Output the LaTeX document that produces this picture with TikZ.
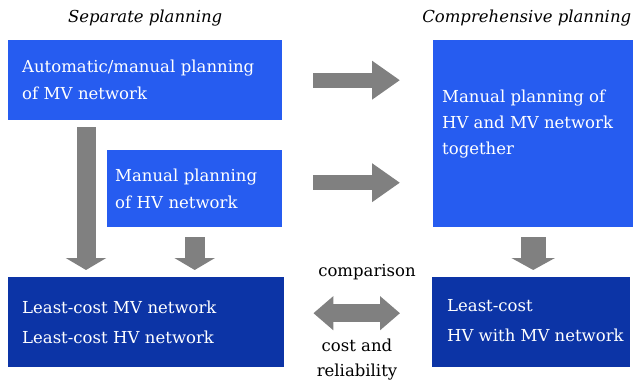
\documentclass[tikz,border=0pt]{standalone}
\usepackage{fontspec}
\setmainfont{DejaVu Serif}
\usepackage{xcolor}
\usetikzlibrary{arrows.meta,positioning,calc}
\definecolor{planning}{RGB}{38,92,240}
\definecolor{result}{RGB}{12,52,166}
\definecolor{flow}{RGB}{128,128,128}
\tikzstyle{box}=[inner ysep=0pt, anchor=north west, text=white, align=left,
  font=\fontsize{16.5}{27}\selectfont]
\tikzstyle{plan}=[box, fill=planning]
\tikzstyle{least}=[box, fill=result, font=\fontsize{16.5}{30}\selectfont]
\tikzstyle{heading}=[font=\fontsize{16.5}{18}\selectfont\itshape]
\tikzstyle{note}=[font=\fontsize{16.5}{20}\selectfont]
\tikzstyle{fat}=[draw=flow, line width=#1]
\tikzset{y=-1pt}
\tikzset{x=1pt}

\begin{document}
\begin{tikzpicture}
  \useasboundingbox (0,0) rectangle (636,385);

  %% planning steps
  \draw (8,40) node[plan, inner xsep=14pt, text width=246pt, minimum height=80pt] (A)
    {Automatic/manual planning\\of MV network};
  \draw (107,150) node[plan, inner xsep=8pt, text width=159pt, minimum height=77pt] (B)
    {Manual planning\\of HV network};
  \draw (433,40) node[plan, inner sep=0pt, minimum width=200pt, minimum height=187pt] (C) {};
  \draw ([xshift=9pt,yshift=-50pt]C.north west) node[box, inner sep=0pt,
    font=\fontsize{16.5}{26}\selectfont] (Ctext)
    {Manual planning of\\HV and MV network\\together};

  %% results
  \draw (8,277) node[least, inner xsep=14pt, text width=248pt, minimum height=90pt] (D)
    {Least-cost MV network\\Least-cost HV network};
  \draw (432,277) node[least, inner sep=0pt, minimum width=198pt, minimum height=90pt] (E) {};
  \draw ([xshift=15pt,yshift=2pt]E.west) node[least, fill=none, anchor=west, inner sep=0pt] (Etext)
    {Least-cost\\HV with MV network};

  %% headings
  \draw ($(A.north)+(0,-22)$) node[heading] (sep) {Separate planning};
  \draw ($(C.north east)+(-2,-22)$) node[heading, anchor=east, inner xsep=0pt] (comp)
    {Comprehensive planning};

  %% grey flow arrows
  \draw[fat=15pt, -{Triangle[length=28pt,width=37pt]}, flow, shorten <=31pt, shorten >=33pt]
    (A.east) -- (A.east -| C.west);
  \draw[fat=15pt, -{Triangle[length=28pt,width=37pt]}, flow, shorten <=31pt, shorten >=33pt]
    ([yshift=6pt]B.east) -- ([yshift=6pt]B.east -| C.west);
  \draw[fat=19pt, -{Triangle[length=12pt,width=40pt]}, flow, shorten <=7pt, shorten >=7pt]
    ([xshift=78pt]A.south west) -- ([xshift=78pt]A.south west |- D.north);
  \draw[fat=20pt, -{Triangle[length=12pt,width=40pt]}, flow, shorten <=10pt, shorten >=7pt]
    (B.south) -- (B.south |- D.north);
  \draw[fat=25pt, -{Triangle[length=12pt,width=43pt]}, flow, shorten <=10pt, shorten >=7pt]
    (C.south) -- (C.south |- E.north);
  \draw[fat=18pt, {Triangle[length=20pt,width=33pt]}-{Triangle[length=20pt,width=33pt]}, flow,
    shorten <=29pt, shorten >=32pt]
    ([yshift=9pt]D.east) -- ([yshift=9pt]D.east -| E.west);

  %% comparison labels
  \draw (367,272) node[note] (cmp) {comparison};
  \draw (357,345) node[note] (cost) {cost and};
  \draw (357,372) node[note] (rel) {reliability};
\end{tikzpicture}
\end{document}
